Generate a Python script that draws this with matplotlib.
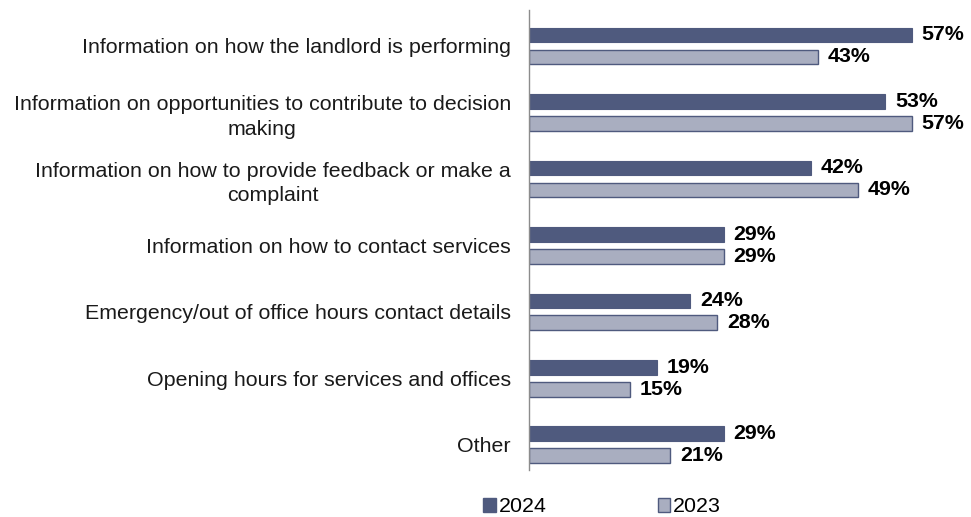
import matplotlib.pyplot as plt
from matplotlib.patches import Patch
import numpy as np

plt.rcParams['font.family'] = ['Liberation Sans', 'DejaVu Sans']

categories = [
    'Information on how the landlord is performing',
    'Information on opportunities to contribute to decision\nmaking',
    'Information on how to provide feedback or make a\ncomplaint',
    'Information on how to contact services',
    'Emergency/out of office hours contact details',
    'Opening hours for services and offices',
    'Other',
]
values_2024 = [57, 53, 42, 29, 24, 19, 29]
values_2023 = [43, 57, 49, 29, 28, 15, 21]

dark = '#4f5a7e'
light = '#a9aec0'
fs = 15.4

fig = plt.figure(figsize=(9.71, 5.17), dpi=100)
ax = fig.add_axes([529 / 971, 1 - 470 / 517, 430 / 971, 460 / 517])

y = np.arange(len(categories))
h = 0.22
off = 0.165

ax.barh(y - off, values_2024, height=h, color=dark, edgecolor=dark, linewidth=0.8)
ax.barh(y + off, values_2023, height=h, color=light, edgecolor=dark, linewidth=1.0)

# value labels just past the end of each bar
for yi, v in zip(y, values_2024):
    ax.annotate(f'{v}%', (v, yi - off), xytext=(7, 0), textcoords='offset points',
                va='center', ha='left', fontsize=fs, fontweight='bold', color='black')
for yi, v in zip(y, values_2023):
    ax.annotate(f'{v}%', (v, yi + off), xytext=(7, 0), textcoords='offset points',
                va='center', ha='left', fontsize=fs, fontweight='bold', color='black')

ax.set_xlim(0, 64)
ax.set_ylim(6.38, -0.54)
ax.set_yticks(y)
ax.set_yticklabels(categories, fontsize=fs, color='#1a1a1a', multialignment='center',
                   linespacing=1.37)
ax.tick_params(axis='y', length=0, pad=13)
ax.set_xticks([])

for side in ['top', 'right', 'bottom']:
    ax.spines[side].set_visible(False)
ax.spines['left'].set_color('#8c8c8c')
ax.spines['left'].set_linewidth(1.0)

handles = [Patch(facecolor=dark, edgecolor=dark, label='2024'),
           Patch(facecolor=light, edgecolor=dark, label='2023')]
fig.legend(handles=handles, loc='center', bbox_to_anchor=(602 / 971, 1 - 507 / 517),
           ncol=2, frameon=False, fontsize=fs, handlelength=0.6, handleheight=0.6,
           handletextpad=0.12, columnspacing=5.2, borderpad=0.2)

fig.savefig('out.png', dpi=100)
